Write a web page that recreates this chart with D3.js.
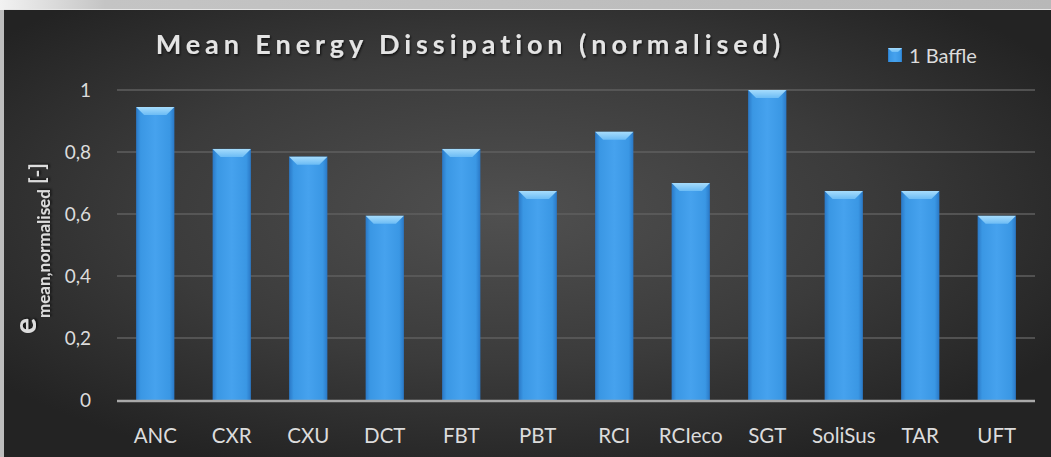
<!DOCTYPE html>
<html>
<head>
<meta charset="utf-8">
<script src="https://cdn.jsdelivr.net/npm/d3@7/dist/d3.min.js"></script>
<style>
  html, body { margin: 0; padding: 0; background: #bdbdbd; overflow: hidden; width: 1051px; height: 457px; }
  svg { display: block; }
  text { font-family: Lato, "Open Sans", "Noto Sans", sans-serif; }
</style>
</head>
<body>
<svg id="chart" width="1051" height="457"></svg>
<script>
// Baffle types and their normalised mean energy dissipation
const categories = ["ANC", "CXR", "CXU", "DCT", "FBT", "PBT", "RCI", "RCIeco", "SGT", "SoliSus", "TAR", "UFT"];
const oneBaffle = [0.945, 0.81, 0.785, 0.594, 0.81, 0.674, 0.865, 0.70, 1.0, 0.674, 0.674, 0.594];
const yTicks = [0, 0.2, 0.4, 0.6, 0.8, 1];
const seriesName = "1 Baffle";
const titleText = "Mean Energy Dissipation (normalised)";

const W = 1051, H = 457;
const svg = d3.select("#chart");
const defs = svg.append("defs");

// Frame backgrounds
const topGrad = defs.append("linearGradient").attr("id", "topStrip").attr("x1", 0).attr("x2", 1).attr("y1", 0).attr("y2", 0);
topGrad.append("stop").attr("offset", "0%").attr("stop-color", "#f2f2f2");
topGrad.append("stop").attr("offset", "10%").attr("stop-color", "#c4c4c4");
topGrad.append("stop").attr("offset", "100%").attr("stop-color", "#b8b8b8");

const bgGrad = defs.append("radialGradient").attr("id", "panelBg")
  .attr("cx", "48%").attr("cy", "45%").attr("r", "62%");
bgGrad.append("stop").attr("offset", "0%").attr("stop-color", "#505050");
bgGrad.append("stop").attr("offset", "55%").attr("stop-color", "#3b3b3b");
bgGrad.append("stop").attr("offset", "100%").attr("stop-color", "#232323");

const barGrad = defs.append("linearGradient").attr("id", "barFill").attr("x1", 0).attr("x2", 1).attr("y1", 0).attr("y2", 0);
barGrad.append("stop").attr("offset", "0%").attr("stop-color", "#2a78c6");
barGrad.append("stop").attr("offset", "12%").attr("stop-color", "#3a97e4");
barGrad.append("stop").attr("offset", "50%").attr("stop-color", "#46a2ee");
barGrad.append("stop").attr("offset", "88%").attr("stop-color", "#3a97e4");
barGrad.append("stop").attr("offset", "100%").attr("stop-color", "#2a78c6");

const capGrad = defs.append("linearGradient").attr("id", "capFill").attr("x1", 0).attr("x2", 0).attr("y1", 0).attr("y2", 1);
capGrad.append("stop").attr("offset", "0%").attr("stop-color", "#a6dcfc");
capGrad.append("stop").attr("offset", "100%").attr("stop-color", "#6cbcf5");

const shadow = defs.append("filter").attr("id", "txtShadow").attr("x", "-5%").attr("y", "-20%").attr("width", "110%").attr("height", "150%");
shadow.append("feDropShadow").attr("dx", 1).attr("dy", 1.5).attr("stdDeviation", 1).attr("flood-color", "#000").attr("flood-opacity", 0.7);

svg.append("rect").attr("x", 0).attr("y", 0).attr("width", W).attr("height", H).attr("fill", "#bdbdbd");
svg.append("rect").attr("x", 0).attr("y", 0).attr("width", W).attr("height", 10).attr("fill", "url(#topStrip)");
svg.append("rect").attr("x", 4).attr("y", 10).attr("width", W - 4).attr("height", H - 10).attr("fill", "url(#panelBg)");
svg.append("line").attr("x1", 4).attr("x2", W).attr("y1", 9.5).attr("y2", 9.5).attr("stroke", "#e6e6e6").attr("stroke-width", 1);

// Plot area
const plot = { left: 117, right: 1035, top: 90, bottom: 400 };

const x = d3.scaleBand().domain(categories).range([plot.left, plot.right]).paddingInner(0.5).paddingOuter(0.25);
const y = d3.scaleLinear().domain([0, 1]).range([plot.bottom, plot.top]);

// Gridlines
svg.append("g").selectAll("line").data(yTicks.filter(d => d > 0)).join("line")
  .attr("x1", plot.left).attr("x2", plot.right)
  .attr("y1", d => y(d)).attr("y2", d => y(d))
  .attr("stroke", "#5f5f5f").attr("stroke-width", 1.5);

// Y axis tick labels
const yAxis = d3.axisLeft(y).tickValues(yTicks).tickSize(0).tickPadding(0)
  .tickFormat(d => d3.format("")(d).replace(".", ","));
const yG = svg.append("g").attr("transform", "translate(91,0)").call(yAxis);
yG.select(".domain").remove();
yG.selectAll("text").attr("fill", "#dcdcdc").attr("font-size", 19)
  .attr("font-family", "Lato, 'Open Sans', sans-serif").attr("dy", "0.36em");

// Bars
const bw = x.bandwidth();
const bars = svg.append("g").selectAll("g").data(categories.map((c, i) => ({ c, v: oneBaffle[i] }))).join("g");
bars.append("rect")
  .attr("x", d => x(d.c)).attr("y", d => y(d.v))
  .attr("width", bw).attr("height", d => y(0) - y(d.v))
  .attr("fill", "url(#barFill)");
// bevelled top face
const cap = 8, inset = 8;
bars.append("path")
  .attr("d", d => {
    const x0 = x(d.c), x1 = x0 + bw, t = y(d.v);
    return `M${x0},${t}L${x1},${t}L${x1 - inset},${t + cap}L${x0 + inset},${t + cap}Z`;
  })
  .attr("fill", "url(#capFill)");

// Baseline
svg.append("line").attr("x1", plot.left).attr("x2", plot.right)
  .attr("y1", y(0) + 1).attr("y2", y(0) + 1)
  .attr("stroke", "#a9a9a9").attr("stroke-width", 2.5);

// X axis labels
const xAxis = d3.axisBottom(x).tickSize(0).tickPadding(0);
const xG = svg.append("g").attr("transform", `translate(0,${y(0) + 43})`).call(xAxis);
xG.select(".domain").remove();
xG.selectAll("text").attr("fill", "#dcdcdc").attr("font-size", 20.5)
  .attr("font-family", "Lato, 'Open Sans', sans-serif").attr("dy", 0);

// Title, spaced out to span its full width
const title = svg.append("text").attr("x", 468).attr("y", 54).attr("text-anchor", "middle")
  .attr("font-size", 27).attr("font-weight", "bold")
  .attr("fill", "#e4e4e4").attr("filter", "url(#txtShadow)")
  .text(titleText);
const natural = title.node().getComputedTextLength();
const spacing = Math.max(0, (630 - natural) / titleText.length);
title.attr("letter-spacing", spacing).attr("x", 468 + spacing / 2);

// Legend
const lg = svg.append("g").attr("transform", "translate(888,48)");
lg.append("rect").attr("x", 0).attr("y", 0).attr("width", 14).attr("height", 14).attr("fill", "url(#barFill)");
lg.append("path").attr("d", "M0,0L14,0L10,4L4,4Z").attr("fill", "url(#capFill)");
lg.append("text").attr("x", 21).attr("y", 15).attr("font-size", 20).attr("fill", "#dcdcdc").text(seriesName);

// Y axis title
const yt = svg.append("text").attr("transform", "translate(36,334) rotate(-90)")
  .attr("text-anchor", "start").attr("fill", "#dcdcdc").attr("font-weight", "bold")
  .attr("filter", "url(#txtShadow)");
yt.append("tspan").attr("font-size", 30).text("e");
yt.append("tspan").attr("font-size", 17).attr("dy", 14).text("mean,normalised");
yt.append("tspan").attr("font-size", 21).attr("dy", -6).text(" [-]");
</script>
</body>
</html>
